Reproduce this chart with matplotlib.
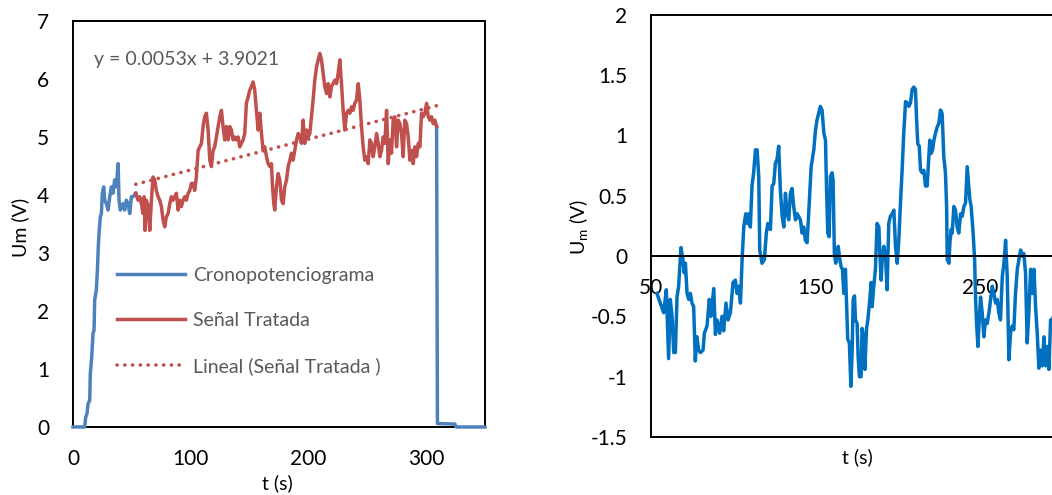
import numpy as np
import matplotlib
matplotlib.use('Agg')
import matplotlib.pyplot as plt

plt.rcParams['font.family'] = ['Lato', 'DejaVu Sans']
plt.rcParams['axes.unicode_minus'] = False
plt.rcParams['mathtext.fontset'] = 'custom'
plt.rcParams['mathtext.rm'] = 'Lato'

# --- left panel: cronopotenciograma (blue), señal tratada (red)
blue_t_rise = [0, 9.9, 10.8, 11.9, 12.8, 14.2, 14.7, 15.9, 17.0, 17.9, 18.4, 19.8, 20.7, 21.5,
               22.1, 23.2, 24.1, 24.9, 26.1, 26.9, 28.3, 29.8, 31.2, 32.6, 34.0, 35.4, 36.8,
               38.3, 39.1, 40.2, 41.4, 42.5, 43.9, 45.3, 46.8, 48.2, 49.6, 51.0, 53.3]
blue_u_rise = [0, 0, 0.17, 0.23, 0.40, 0.46, 0.92, 1.21, 1.61, 1.67, 2.19, 2.36, 2.70, 3.11,
               3.34, 3.62, 3.68, 4.03, 4.14, 3.91, 3.85, 3.74, 3.97, 4.14, 4.03, 4.26, 4.14,
               4.54, 3.91, 3.74, 3.80, 3.85, 3.74, 3.91, 3.85, 3.68, 3.97, 3.97, 4.03]
blue_t_fall = [308.9, 309.6, 324.5, 325.5, 350]
blue_u_fall = [5.18, 0.06, 0.05, 0.0, 0.0]

red_t = [53.3, 55.3, 56.7, 58.1, 59.5, 60.4, 61.2, 62.3, 63.8, 65.2, 66.6, 68.0, 69.4, 70.8,
         72.3, 73.7, 75.1, 76.5, 77.9, 79.3, 80.8, 82.2, 83.6, 85.0, 86.4, 87.8, 89.3, 90.7,
         92.1, 93.5, 94.9, 96.3, 97.8, 99.2, 100.6, 102.0, 103.4, 104.8, 106.3, 107.7, 109.1,
         110.5, 111.9, 113.3, 114.8, 116.2, 117.6, 119.0, 120.4, 121.8, 123.3, 124.7, 126.1,
         127.5, 128.9, 130.3, 131.8, 133.2, 134.6, 136.0, 137.4, 138.8, 140.3, 141.7, 143.1,
         144.5, 145.9, 147.3, 148.8, 150.2, 151.6, 153.0, 154.4, 155.8, 157.3, 158.7, 160.1,
         161.5, 162.9, 164.4, 165.8, 167.2, 168.6, 169.5, 170.6, 171.4, 172.8, 174.3, 175.7,
         177.1, 178.5, 179.9, 181.4, 182.8, 184.2, 185.6, 187.0, 188.4, 189.9, 191.3, 192.7,
         194.1, 195.5, 196.9, 198.4, 199.8, 201.2, 202.6, 204.0, 205.4, 206.9, 208.3, 209.7,
         211.1, 212.5, 213.9, 215.4, 216.8, 218.2, 219.6, 221.0, 222.4, 223.9, 225.3, 226.7,
         228.1, 229.5, 230.9, 232.4, 233.8, 235.2, 236.6, 238.0, 239.4, 240.9, 242.3, 243.7,
         245.1, 246.5, 247.9, 249.4, 250.8, 252.2, 253.6, 255.0, 256.4, 257.9, 259.3, 260.7,
         262.1, 263.5, 264.9, 266.4, 267.8, 269.2, 270.6, 272.0, 273.4, 274.9, 276.3, 277.7,
         279.1, 280.5, 281.9, 283.4, 284.8, 286.2, 287.6, 289.0, 290.4, 291.9, 293.3, 294.7,
         296.1, 297.5, 298.9, 300.4, 301.8, 303.2, 304.6, 306.0, 307.4, 308.9]
red_u = [4.03, 3.91, 3.97, 3.85, 3.68, 3.97, 3.39, 3.91, 3.80, 3.39, 3.91, 4.31, 4.26, 4.08,
         3.97, 3.91, 3.80, 3.57, 3.45, 3.62, 3.68, 3.85, 3.97, 3.91, 3.97, 4.03, 3.74, 3.91,
         3.80, 3.91, 3.97, 3.91, 4.03, 4.08, 4.20, 4.20, 4.08, 4.31, 4.77, 4.83, 4.89, 5.18,
         5.35, 5.41, 5.12, 4.60, 4.49, 4.77, 4.83, 5.00, 5.18, 5.35, 5.46, 5.18, 4.95, 5.18,
         4.95, 5.18, 5.12, 4.95, 5.00, 4.95, 5.00, 4.83, 4.89, 4.95, 5.06, 5.58, 5.69, 5.81,
         5.87, 5.95, 5.81, 5.46, 5.12, 5.41, 5.06, 4.77, 4.83, 4.66, 4.54, 4.49, 4.54, 4.14,
         3.85, 3.74, 4.14, 4.37, 4.26, 3.91, 3.85, 4.14, 4.26, 4.49, 4.60, 4.72, 4.60, 4.77,
         4.95, 5.06, 5.00, 4.89, 5.29, 4.89, 5.12, 5.00, 5.06, 5.35, 5.64, 5.98, 6.21, 6.33,
         6.44, 6.33, 6.10, 5.87, 5.75, 5.92, 5.69, 5.87, 5.92, 5.98, 5.92, 6.10, 6.33, 5.92,
         5.46, 5.12, 5.41, 5.46, 5.41, 5.52, 5.46, 5.58, 5.64, 5.92, 5.64, 5.18, 4.83, 4.60,
         4.66, 4.54, 4.95, 4.89, 4.66, 4.83, 5.06, 4.89, 4.66, 4.77, 5.00, 4.89, 5.46, 4.54,
         4.95, 4.72, 5.29, 5.35, 4.83, 5.29, 5.23, 5.06, 4.66, 5.29, 5.23, 5.00, 4.60, 4.77,
         4.54, 4.83, 4.66, 4.89, 4.83, 5.41, 5.35, 5.41, 5.58, 5.35, 5.29, 5.35, 5.23, 5.29, 5.18]

trend_coef = [0.0053, 3.9021]  # y = 0.0053x + 3.9021
trend_span = [53.3, 310.0]

# --- right panel: señal tratada sin tendencia
res_t = [53.6, 57.7, 59.3, 60.7, 61.7, 62.8, 63.8, 64.8, 65.8, 66.8, 68.2, 69.4, 70.2, 70.9,
         71.9, 72.9, 73.9, 74.9, 75.9, 76.9, 77.9, 78.9, 80.0, 81.6, 82.4, 84.0, 85.4, 86.4,
         88.1, 89.1, 90.1, 91.7, 93.1, 94.1, 95.5, 96.8, 98.2, 99.8, 101.2, 102.2, 103.2, 104.3,
         105.3, 106.3, 107.5, 108.3, 109.3, 110.3, 111.3, 112.3, 113.4, 114.4, 115.4, 116.0,
         117.4, 118.8, 120.0, 120.9, 122.5, 123.5, 124.5, 125.5, 126.5, 127.5, 128.5, 129.6,
         130.6, 131.6, 132.6, 133.6, 134.6, 135.6, 136.6, 137.7, 138.7, 140.7, 141.7, 142.7,
         143.7, 144.7, 145.7, 147.2, 148.8, 149.8, 150.8, 152.8, 153.8, 154.9, 155.9, 156.5,
         157.3, 158.1, 158.9, 159.9, 160.5, 161.3, 162.1, 163.0, 163.6, 164.6, 165.4, 166.2,
         167.0, 168.0, 169.0, 169.4, 170.4, 171.3, 172.1, 172.7, 173.5, 174.1, 175.1, 175.7,
         176.5, 177.5, 178.1, 179.1, 179.8, 180.8, 181.6, 182.8, 183.6, 184.2, 185.2, 186.2,
         187.2, 188.3, 188.9, 189.7, 190.3, 191.3, 192.3, 193.3, 194.3, 195.3, 196.4, 197.4,
         198.4, 199.4, 200.4, 201.4, 202.4, 203.4, 204.5, 205.5, 206.5, 207.5, 208.5, 209.5,
         210.5, 211.1, 211.9, 212.8, 213.6, 214.6, 215.6, 216.6, 217.6, 218.6, 219.2, 220.0,
         220.9, 221.7, 222.7, 223.7, 224.7, 225.7, 226.7, 227.7, 228.7, 229.4, 229.8, 230.8,
         231.4, 232.2, 232.8, 233.8, 234.8, 235.8, 236.8, 237.9, 238.9, 239.9, 240.9, 241.9,
         242.7, 243.5, 244.3, 245.5, 246.4, 247.0, 247.6, 248.4, 249.2, 250.0, 251.0, 252.0,
         253.0, 254.0, 255.1, 256.1, 257.1, 258.1, 259.1, 260.1, 261.1, 262.1, 263.2, 264.2,
         265.2, 266.2, 267.2, 268.2, 269.2, 270.2, 271.2, 272.3, 273.3, 274.3, 275.3, 276.3,
         277.3, 278.3, 279.3, 280.4, 281.4, 282.4, 283.4, 284.4, 285.4, 286.4, 287.4, 288.5,
         289.5, 290.5, 291.5, 292.5, 293.7, 294.8]
res_u = [-0.31, -0.47, -0.28, -0.85, -0.36, -0.50, -0.80, -0.80, -0.34, -0.25, 0.07, -0.03,
         -0.14, -0.06, -0.31, -0.36, -0.31, -0.39, -0.42, -0.87, -0.67, -0.78, -0.80, -0.78,
         -0.64, -0.58, -0.36, -0.50, -0.27, -0.65, -0.53, -0.64, -0.50, -0.62, -0.39, -0.53,
         -0.47, -0.22, -0.20, -0.31, -0.25, -0.39, -0.03, 0.24, 0.35, 0.27, 0.35, 0.24, 0.58,
         0.69, 0.88, 0.88, 0.66, 0.05, -0.06, -0.03, 0.19, 0.27, 0.22, 0.58, 0.60, 0.77, 0.80,
         0.91, 0.55, 0.33, 0.24, 0.52, 0.35, 0.30, 0.52, 0.56, 0.41, 0.30, 0.35, 0.30, 0.19,
         0.24, 0.13, 0.11, 0.35, 0.74, 0.88, 1.04, 1.13, 1.24, 1.21, 1.02, 0.96, 0.58, 0.19,
         0.16, 0.66, 0.69, 0.63, 0.02, -0.06, 0.02, 0.08, -0.03, -0.09, -0.11, -0.31, -0.11,
         -0.53, -0.69, -0.72, -1.08, -0.78, -0.36, -0.33, -0.53, -0.56, -0.83, -1.00, -1.00,
         -0.60, -0.69, -0.94, -0.60, -0.53, -0.36, -0.22, -0.42, -0.25, -0.11, 0.27, 0.24,
         0.02, -0.20, -0.03, 0.08, 0.00, -0.28, 0.27, 0.33, 0.35, 0.38, 0.08, -0.06, 0.13,
         0.44, 0.71, 1.02, 1.28, 1.27, 1.24, 1.27, 1.38, 1.40, 1.38, 1.16, 0.93, 0.91, 0.71,
         0.69, 0.71, 0.58, 0.58, 0.82, 0.96, 0.85, 0.88, 0.96, 1.02, 1.07, 1.10, 1.21, 1.18,
         0.82, 0.69, 0.41, -0.03, -0.06, 0.11, 0.22, 0.19, 0.41, 0.38, 0.24, 0.19, 0.35, 0.33,
         0.41, 0.44, 0.74, 0.60, 0.47, 0.41, 0.19, -0.03, -0.36, -0.56, -0.75, -0.53, -0.34,
         -0.47, -0.67, -0.53, -0.56, -0.47, -0.36, -0.25, -0.31, -0.39, -0.36, -0.47, -0.53,
         -0.17, -0.06, 0.13, -0.17, -0.86, -0.64, -0.58, -0.61, -0.31, -0.11, -0.03, 0.05,
         0.00, 0.02, -0.14, -0.72, -0.47, -0.11, -0.31, -0.11, -0.42, -0.64, -0.93, -0.78,
         -0.91, -0.67, -0.91, -0.75, -0.94, -0.53, -0.53, -0.45]

c_blue = '#4F81BD'
c_red = '#C0504D'
c_blue2 = '#0070C0'
c_text = '#595959'
lw = 2.5

fig = plt.figure(figsize=(10.52, 4.95), dpi=100)

# left
ax1 = fig.add_axes([0.0694, 0.1374, 0.3916, 0.8202])
l1, = ax1.plot(blue_t_rise, blue_u_rise, color=c_blue, lw=lw, label='Cronopotenciograma',
               clip_on=False, zorder=3)
ax1.plot(blue_t_fall, blue_u_fall, color=c_blue, lw=lw, clip_on=False, zorder=3)
l2, = ax1.plot(red_t, red_u, color=c_red, lw=lw, label='Señal Tratada', zorder=3)
tx = np.array(trend_span)
l3, = ax1.plot(tx, np.polyval(trend_coef, tx), color=c_red, lw=2.6,
               linestyle=(0, (0.05, 2.1)), dash_capstyle='round', zorder=4,
               label='Lineal (Señal Tratada )')
ax1.set_xlim(0, 350)
ax1.set_ylim(0, 7)
ax1.set_xticks([0, 100, 200, 300])
ax1.set_yticks(range(0, 8))
ax1.tick_params(length=0, labelsize=15, pad=16)
ax1.tick_params(axis='y', pad=17)
for s in ax1.spines.values():
    s.set_linewidth(1.4)
ax1.text(0.05, 0.905, 'y = 0.0053x + 3.9021', transform=ax1.transAxes,
         fontsize=14, color=c_text, va='center')
ax1.legend(handles=[l1, l2, l3], loc='upper left', bbox_to_anchor=(0.107, 0.395),
           frameon=False, fontsize=14, handlelength=3.5, handletextpad=0.4,
           labelspacing=1.45, borderpad=0, borderaxespad=0, labelcolor=c_text)
fig.text(0.019, 0.541, 'Um (V)', rotation=90, ha='center', va='center', fontsize=14)
fig.text(0.264, 0.024, 't (s)', ha='center', va='center', fontsize=14)

# right
ax2 = fig.add_axes([0.6188, 0.1172, 0.3916, 0.8531])
ax2.plot(res_t, res_u, color=c_blue2, lw=lw)
ax2.set_xlim(50, 300)
ax2.set_ylim(-1.5, 2)
ax2.set_xticks([50, 150, 250])
ax2.set_yticks(np.arange(-1.5, 2.01, 0.5))
ax2.yaxis.set_major_formatter(plt.FuncFormatter(lambda v, p: f'{v:g}'))
ax2.spines['bottom'].set_position(('data', 0))
for s in ax2.spines.values():
    s.set_linewidth(1.4)
ax2.plot([0, 1], [0, 0], transform=ax2.transAxes, color='black', lw=1.4, clip_on=False)
ax2.tick_params(length=0, labelsize=15)
ax2.tick_params(axis='x', pad=16)
ax2.tick_params(axis='y', pad=17)
fig.text(0.551, 0.541, r'U$_\mathrm{m}$ (V)', rotation=90, ha='center', va='center', fontsize=14)
fig.text(0.815, 0.077, 't (s)', ha='center', va='center', fontsize=14)

fig.savefig('out.png', dpi=100)
